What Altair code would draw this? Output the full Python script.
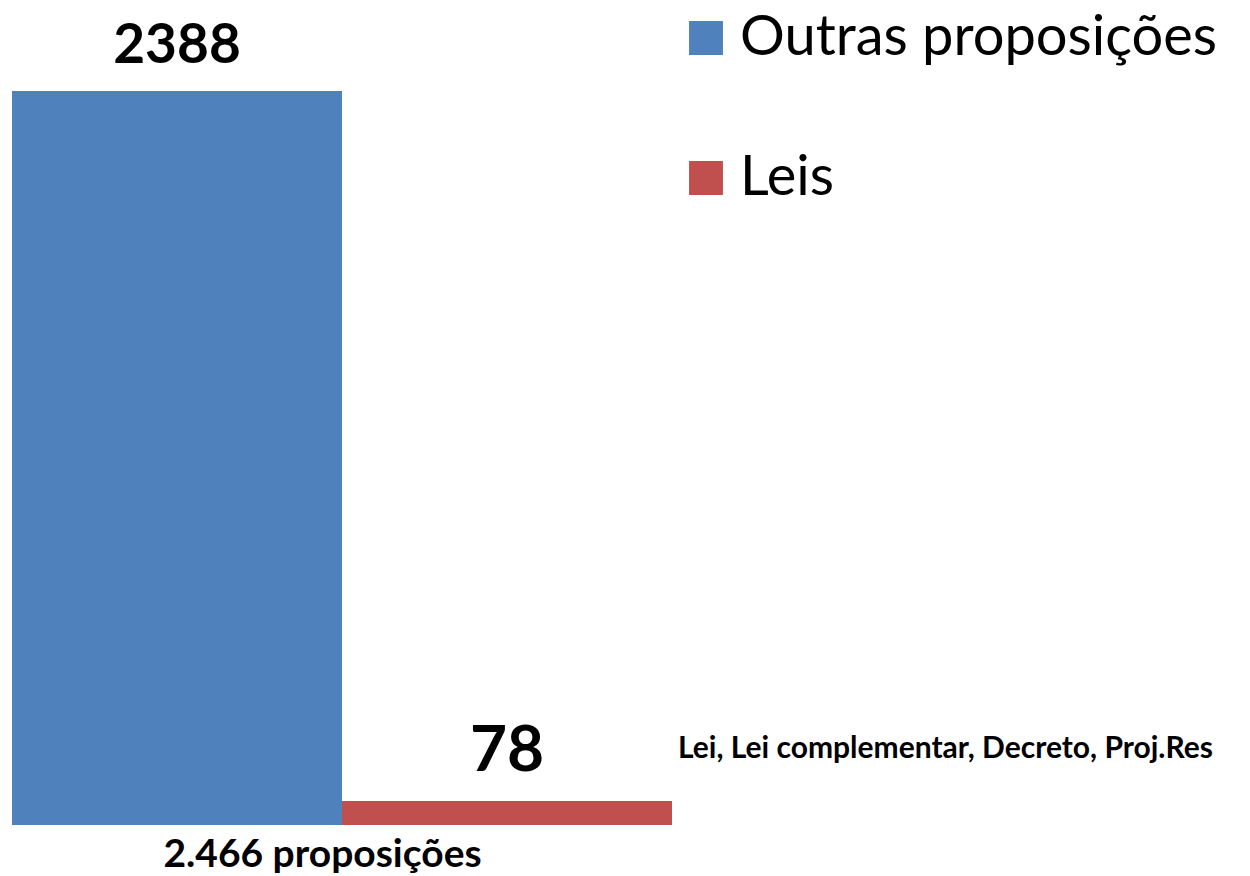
import altair as alt
import pandas as pd

categories = ["Outras proposições", "Leis"]
values = [2388, 78]
total_label = "2.466 proposições"
note_text = "Lei, Lei complementar, Decreto, Proj.Res"

colors = ["#4F81BD", "#C0504D"]
FONT = "Lato"

df = pd.DataFrame({"cat": categories, "val": values})
df["label"] = df["val"].astype(str)
df["note"] = ["", note_text]

x_enc = alt.X(
    "cat:N",
    sort=categories,
    scale=alt.Scale(paddingInner=0, paddingOuter=0),
    axis=alt.Axis(
        labels=False, ticks=False, domain=False, grid=False,
        title=total_label, titleFont=FONT, titleFontSize=39,
        titleFontWeight="bold", titleColor="black", titlePadding=10,
        titleX=310,
    ),
)
y_enc = alt.Y(
    "val:Q",
    scale=alt.Scale(domain=[0, 2658], nice=False, zero=True),
    axis=None,
)

base = alt.Chart(df)

bars = base.mark_bar(strokeWidth=0).encode(
    x=x_enc,
    y=y_enc,
    color=alt.Color(
        "cat:N",
        sort=categories,
        scale=alt.Scale(domain=categories, range=colors),
        legend=alt.Legend(
            title=None,
            orient="none",
            legendX=666,
            legendY=2,
            symbolType="square",
            symbolSize=1150,
            symbolStrokeWidth=0,
            labelFont=FONT,
            labelFontSize=56,
            labelColor="black",
            labelOffset=6,
            rowPadding=84,
            labelLimit=0,
        ),
    ),
)

big_label = base.transform_filter(alt.datum.cat == categories[0]).mark_text(
    font=FONT, fontSize=55, fontWeight="bold", color="black",
    baseline="alphabetic", dy=-28,
).encode(x=alt.X("cat:N", sort=categories), y="val:Q", text="label:N")

small_label = base.transform_filter(alt.datum.cat == categories[1]).mark_text(
    font=FONT, fontSize=64, fontWeight="bold", color="black",
    baseline="alphabetic", dy=-30,
).encode(x=alt.X("cat:N", sort=categories), y="val:Q", text="label:N")

note = base.transform_filter(alt.datum.cat == categories[1]).mark_text(
    font=FONT, fontSize=30, fontWeight="bold", color="black",
    align="left", baseline="middle", dx=6, dy=-52,
).encode(x=alt.X("cat:N", sort=categories, bandPosition=1), y="val:Q", text="note:N")

chart = (
    alt.layer(bars, big_label, small_label, note)
    .properties(
        width=660,
        height=817,
        background="white",
        autosize=alt.AutoSizeParams(type="none"),
        padding={"left": 4, "top": 0, "right": 570, "bottom": 50},
    )
    .configure_view(strokeWidth=0, stroke="transparent")
)

chart.save("out.html", embed_options={"renderer": "svg", "actions": False})
